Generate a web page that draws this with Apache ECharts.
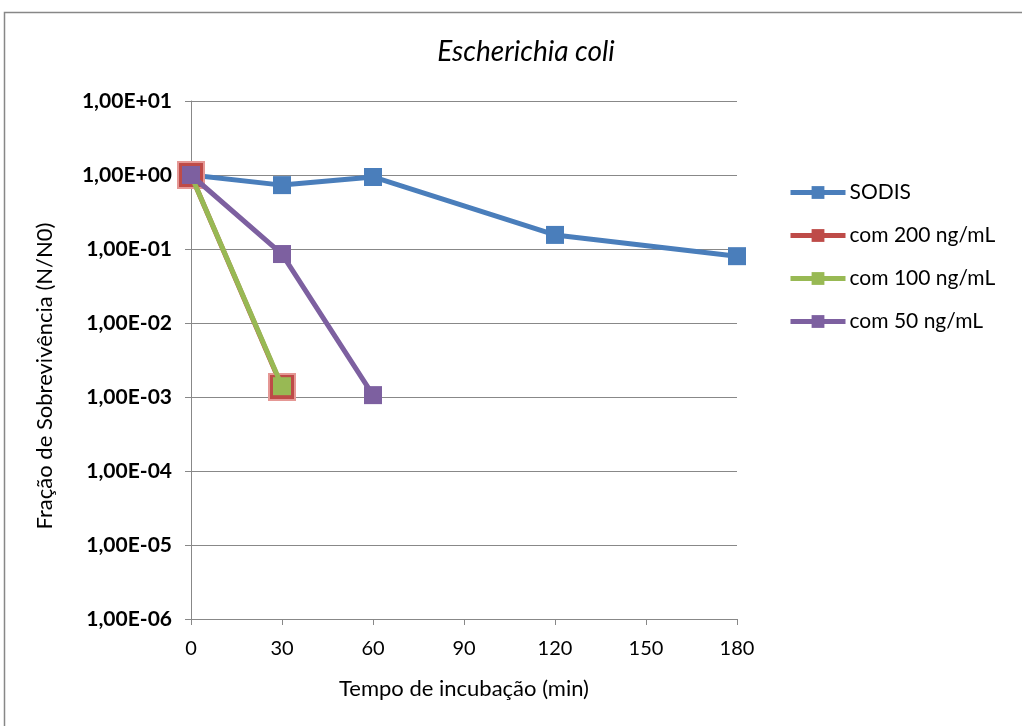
<!DOCTYPE html>
<html><head><meta charset="utf-8">
<script src="https://cdn.jsdelivr.net/npm/echarts@6/dist/echarts.min.js"></script>
<style>html,body{margin:0;padding:0;background:#fff}#c{width:1022px;height:726px}</style>
</head><body><div id="c"></div>
<script>
const times = [0, 30, 60, 120, 180];
const sodis = [1.0, 0.73, 0.94, 0.155, 0.080];
const c200 = [1.0, 0.00136];
const c100 = [1.0, 0.0014];
const c50 = [1.0, 0.0855, 0.00106];
const seriesNames = ['SODIS', 'com 200 ng/mL', 'com 100 ng/mL', 'com 50 ng/mL'];
const colors = ['#4a7ebb', '#be4b48', '#98b954', '#7d60a0'];
const xTicks = [0, 30, 60, 90, 120, 150, 180];

function pairs(vals){ return vals.map((v,i)=>[times[i], v]); }
function fmt(v){
  const e = Math.round(Math.log10(v));
  const s = e >= 0 ? '+' : '-';
  const a = Math.abs(e);
  return '1,00E' + s + (a < 10 ? '0' : '') + a;
}
const font = 'Lato, "Open Sans", sans-serif';
const chart = echarts.init(document.getElementById('c'));
const sizes = [18, 26, 18, 18];
const datas = [sodis, c200, c100, c50];
chart.setOption({
  animation: false,
  color: colors,
  graphic: [
    {type:'rect', shape:{x:4.5,y:12.5,width:1030,height:730}, style:{fill:'none', stroke:'#878787', lineWidth:1.5}, z:-1},
    {type:'text', x:45, y:376, rotation:Math.PI/2,
      style:{text:'Fração de Sobrevivência (N/N0)', font:'22px Lato, "Open Sans", sans-serif', fill:'#000', align:'center', verticalAlign:'middle'}}
  ],
  title: {text:'Escherichia coli', left: 521, top: 33, textAlign:'center',
    textStyle:{fontFamily:font, fontStyle:'italic', fontWeight:'normal', fontSize:28, color:'#000'}},
  grid: {left:191, right:285, top:101, bottom:107},
  legend: {orient:'vertical', left:788, top:182, padding:0, itemGap:22, itemWidth:55, itemHeight:16,
    lineStyle:{width:5}, itemStyle:{borderWidth:0},
    textStyle:{fontFamily:font, fontSize:21, color:'#000', padding:[0,0,0,-1]}, data: seriesNames},
  xAxis: {type:'value', min:0, max:180, interval:30,
    name:'Tempo de incubação (min)', nameLocation:'middle', nameGap:59,
    nameTextStyle:{fontFamily:font, fontSize:22, color:'#000'},
    axisLine:{lineStyle:{color:'#888', width:1}},
    axisTick:{show:true, length:6, lineStyle:{color:'#888'}},
    axisLabel:{fontFamily:font, fontSize:20, color:'#000', margin:20,
      formatter: v => xTicks.includes(v) ? String(v) : ''},
    splitLine:{show:false}},
  yAxis: {type:'log', logBase:10, min:1e-6, max:10,
    axisLine:{show:true, lineStyle:{color:'#888', width:1}},
    axisTick:{show:true, length:6, lineStyle:{color:'#888'}},
    axisLabel:{fontFamily:font, fontSize:21, fontWeight:'bold', color:'#000', margin:19, formatter: fmt},
    splitLine:{show:true, lineStyle:{color:'#888', width:1}}},
  series: datas.map((d,i)=>({
    name: seriesNames[i], type:'line', data: pairs(d),
    symbol:'rect', symbolSize: sizes[i], showAllSymbol:true,
    lineStyle:{width:5, color:colors[i]},
    itemStyle:{color:colors[i], borderColor: i===1 ? '#e59895' : colors[i], borderWidth: i===1 ? 2 : 0},
    z: 2 + i
  }))
});
</script></body></html>
